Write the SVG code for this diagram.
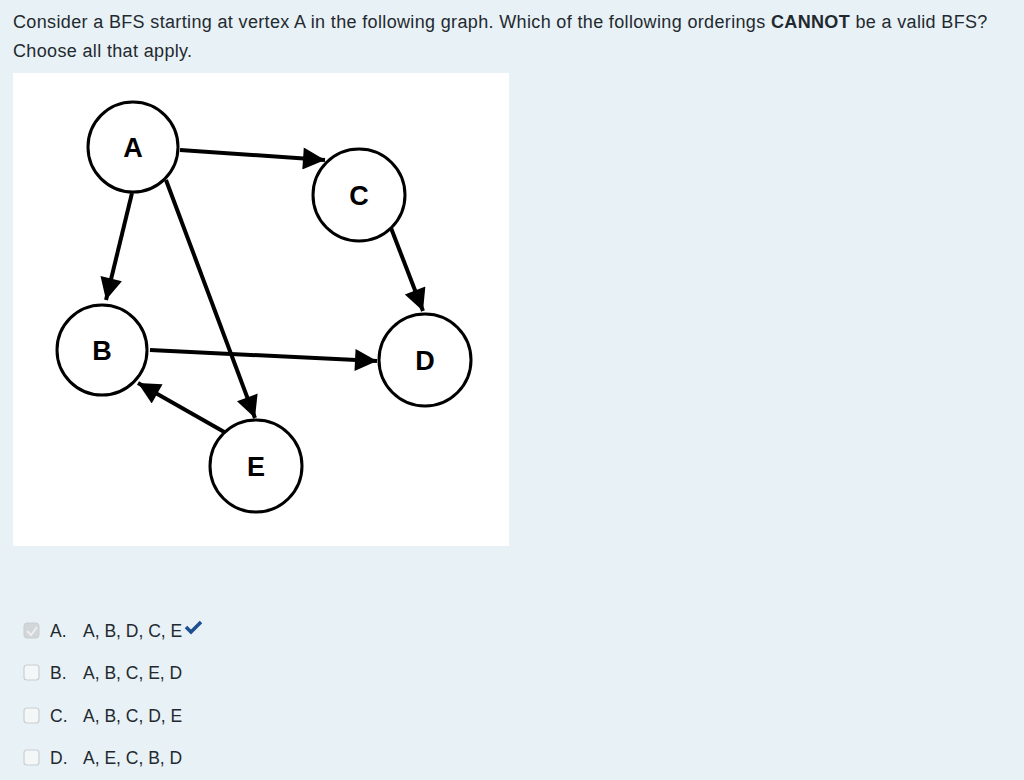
<svg xmlns="http://www.w3.org/2000/svg" width="1024" height="780" viewBox="0 0 1024 780">
<defs>
<style>
.q{font-family:"Liberation Sans",Arial,sans-serif;font-size:18px;letter-spacing:0.35px;fill:#1f2a30}
.o{font-family:"Liberation Sans",Arial,sans-serif;font-size:17.5px;fill:#1f2a30}
.n circle{fill:#fff;stroke:#000;stroke-width:3}
.n text{font-family:"Liberation Sans",Arial,sans-serif;font-size:27px;font-weight:bold;text-anchor:middle;fill:#000}
.e line{stroke:#000;stroke-width:4;marker-end:url(#ah)}
.cb{fill:#f4f7f8;stroke:#c9cfd3;stroke-width:1.2}
</style>
<marker id="ah" viewBox="0 0 10 10" refX="10" refY="5" markerWidth="6.5" markerHeight="5.5" markerUnits="strokeWidth" orient="auto"><path d="M0,0L10,5L0,10z" fill="#000"/></marker>
</defs>
<rect width="1024" height="780" fill="#e8f1f5"/>
<text class="q" x="13" y="28">Consider a BFS starting at vertex A in the following graph. Which of the following orderings <tspan font-weight="bold">CANNOT</tspan> be a valid BFS?</text>
<text class="q" x="13" y="57">Choose all that apply.</text>
<rect x="13" y="73" width="496" height="473" fill="#fff"/>
<g id="connectors" class="e">
<line x1="180" y1="150" x2="325" y2="160"/>
<line x1="132" y1="193" x2="106" y2="300"/>
<line x1="166" y1="180" x2="255" y2="418"/>
<line x1="391" y1="228" x2="423" y2="311"/>
<line x1="150" y1="350" x2="377" y2="361"/>
<line x1="226" y1="433" x2="138" y2="383"/>
</g>
<g id="A" class="n"><circle cx="133" cy="147" r="45"/><text x="133" y="157">A</text></g>
<g id="C" class="n"><circle cx="359" cy="195" r="46"/><text x="359" y="205">C</text></g>
<g id="B" class="n"><circle cx="102" cy="350" r="45"/><text x="102" y="360">B</text></g>
<g id="D" class="n"><circle cx="425" cy="360" r="46"/><text x="425" y="370">D</text></g>
<g id="E" class="n"><circle cx="256" cy="466" r="46"/><text x="256" y="476">E</text></g>
<g id="options">
<rect x="24" y="623" width="15" height="15" rx="3" fill="#d3d6d8" stroke="#c9cfd3"/>
<path d="M27,631l4,4l6,-8" fill="none" stroke="#eee" stroke-width="2"/>
<text class="o" x="50" y="637">A.<tspan x="83">A, B, D, C, E</tspan></text>
<path d="M186,627l5,5l10,-10" fill="none" stroke="#1d4f91" stroke-width="3.5"/>
<rect x="24" y="665" width="15" height="15" rx="3" class="cb"/>
<text class="o" x="50" y="679">B.<tspan x="83">A, B, C, E, D</tspan></text>
<rect x="24" y="708" width="15" height="15" rx="3" class="cb"/>
<text class="o" x="50" y="722">C.<tspan x="83">A, B, C, D, E</tspan></text>
<rect x="24" y="750" width="15" height="15" rx="3" class="cb"/>
<text class="o" x="50" y="764">D.<tspan x="83">A, E, C, B, D</tspan></text>
</g>
</svg>
